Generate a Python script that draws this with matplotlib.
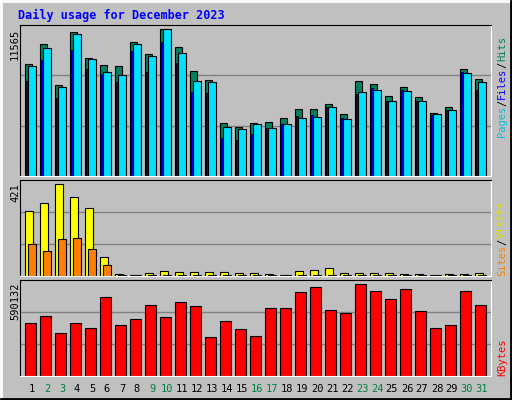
import matplotlib
matplotlib.use("Agg")
import matplotlib.pyplot as plt
import numpy as np

days = list(range(1, 32))
weekend = [2, 3, 9, 10, 16, 17, 23, 24, 30, 31]
hits_y = [133,73,196,37,115,136,139,67,103,28,82,154,181,310,322,310,307,295,268,268,253,283,184,193,229,202,232,280,262,148,178]
files_y = [139,85,202,43,118,157,166,73,109,28,100,184,187,322,328,313,325,313,295,292,262,298,217,211,244,214,244,283,271,160,187]
pages_y = [184,121,235,91,148,163,187,94,157,67,130,217,220,355,361,343,325,313,289,286,262,295,223,205,244,211,244,286,271,157,211]
hits = [(468 - v) * 11565 / 440 for v in hits_y]
files = [(468 - v) * 11565 / 440 for v in files_y]
pages = [(468 - v) * 11565 / 440 for v in pages_y]
visits_y = [574,550,493,532,565,712,763,766,760,754,757,757,757,757,760,760,763,766,754,751,745,760,760,760,760,763,763,766,763,763,760]
sites_y = [673,694,658,655,688,736] + [766] * 25
visits = [(768 - v) * 421 / 275 for v in visits_y]
sites = [(768 - v) * 421 / 275 for v in sites_y]
kb_y = [910,889,940,910,925,832,916,898,856,892,847,859,952,904,928,949,865,865,817,802,871,880,793,814,838,808,874,925,916,814,856]
kbytes = [(1066 - v) * 590132 / 273 for v in kb_y]

W, H = 512, 400
fig = plt.figure(figsize=(W / 100, H / 100), dpi=100, facecolor="#C0C0C0")
# bevel border
bg = fig.add_axes([0, 0, 1, 1]); bg.set_xlim(0, W); bg.set_ylim(H, 0); bg.axis("off")
bg.plot([1, W - 1], [1, 1], color="white", lw=2); bg.plot([1, 1], [1, H - 1], color="white", lw=2)
bg.plot([1, W - 1], [H - 1, H - 1], color="black", lw=2); bg.plot([W - 1, W - 1], [1, H - 1], color="black", lw=2)
bg.text(18, 15, "Daily usage for December 2023", color="#0000FF", fontsize=8.5, fontweight="bold",
        family="DejaVu Sans Mono", va="center")

def mkax(y0, y1, ytop):
    ax = fig.add_axes([20 / W, 1 - y1 / H, (491 - 20) / W, (y1 - y0) / H])
    ax.set_facecolor("#C0C0C0")
    ax.set_xlim(0.2, 31.6); ax.set_ylim(0, ytop)
    ax.set_xticks([]); ax.set_yticks([])
    for s in ["top", "left"]:
        ax.spines[s].set_color("black")
    for s in ["bottom", "right"]:
        ax.spines[s].set_color("white")
    for f in (1 / 3, 2 / 3):
        ax.axhline(ytop * f, color="#808080", lw=1, zorder=0)
    return ax

x = np.array(days)
ax1 = mkax(25, 176, 11565 * 453 / 440)
ax1.bar(x - 0.25, hits, width=0.46, color="#008060", edgecolor="black", lw=0.8)
ax1.bar(x - 0.325, pages, width=0.17, color="#0000FF", edgecolor="black", lw=0.6)
ax1.bar(x, files, width=0.48, color="#00E0FF", edgecolor="black", lw=0.8)

ax2 = mkax(180, 276, 421 * 286 / 275)
ax2.bar(x - 0.215, visits, width=0.53, color="#FFFF00", edgecolor="black", lw=0.8)
ax2.bar(x, sites, width=0.48, color="#FF8000", edgecolor="black", lw=0.8)

ax3 = mkax(280, 376, 590132 * 284 / 273)
ax3.bar(x - 0.1, kbytes, width=0.7, color="#FF0000", edgecolor="black", lw=0.8)

mono = "DejaVu Sans Mono"
for d in days:
    px = 20 + (d - 0.2) / 31.4 * 471
    bg.text(px, 389, str(d), ha="center", va="center", fontsize=7.5, family=mono,
            color="#008040" if d in weekend else "black")

bg.text(15, 29, "11565", rotation=90, ha="center", va="top", fontsize=7.5, family=mono)
bg.text(15, 183, "421", rotation=90, ha="center", va="top", fontsize=7.5, family=mono)
bg.text(15, 283, "590132", rotation=90, ha="center", va="top", fontsize=7.5, family=mono)

def rlabel(pieces, ybottom):
    y = ybottom
    for t, c in pieces:
        tt = bg.text(502, y, t, rotation=90, ha="center", va="bottom", fontsize=7.5, family=mono, color=c)
        y -= len(t) * 6.0 + 1
rlabel([("Pages", "#00C0E0"), ("/", "black"), ("Files", "#0000FF"), ("/", "black"), ("Hits", "#008060")], 137)
rlabel([("Sites", "#FF8000"), ("/", "black"), ("Visits", "#E0E000")], 276)
rlabel([("KBytes", "#FF0000")], 376)

fig.savefig("out.png", dpi=100, facecolor=fig.get_facecolor())
